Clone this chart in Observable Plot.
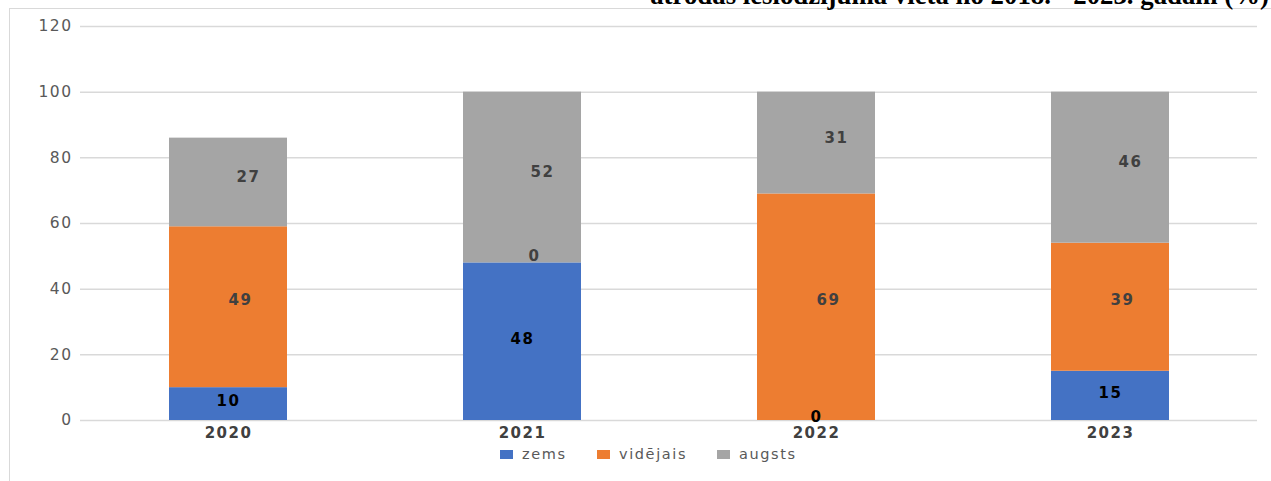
<!DOCTYPE html>
<html>
<head>
<meta charset="utf-8">
<script src="https://cdn.jsdelivr.net/npm/d3@7"></script>
<script src="https://cdn.jsdelivr.net/npm/@observablehq/plot@0.6"></script>
<style>
  html, body { margin: 0; padding: 0; background: #fff; }
  #wrap { position: relative; width: 1271px; height: 481px; overflow: hidden; }
  #frame { position: absolute; left: 9px; top: 8px; width: 1400px; height: 600px; border: 1px solid #d9d9d9; box-sizing: border-box; }
  #title { position: absolute; right: 2px; top: -20px; font-family: "Liberation Serif", "Times New Roman", serif; font-weight: bold; font-size: 26.8px; line-height: 30px; color: #000; white-space: nowrap; }
  #chart { position: absolute; left: 0; top: 0; }
  #chart svg text { letter-spacing: 1.5px; }
  #legend { position: absolute; top: 446px; left: 0; width: 1271px; font-family: "DejaVu Sans", sans-serif; font-size: 14.5px; letter-spacing: 1.6px; color: #595959; }
  .item { position: absolute; display: flex; align-items: center; }
  .sw { width: 13px; height: 9px; margin-right: 9px; }
</style>
</head>
<body>
<div id="wrap">
  <div id="frame"></div>
  <div id="title">atrodas ieslodzījuma vietā no 2018. - 2023. gadam (%)</div>
  <div id="chart"></div>
  <div id="legend"></div>
</div>
<script>
const years = ["2020", "2021", "2022", "2023"];
const seriesNames = ["zems", "vidējais", "augsts"];
const zems = [10, 48, 0, 15];
const videjais = [49, 0, 69, 39];
const augsts = [27, 52, 31, 46];
const colors = ["#4472c4", "#ed7d31", "#a5a5a5"];
const labelColors = ["#000000", "#404040", "#404040"];
const yTicks = [0, 20, 40, 60, 80, 100, 120];

const seriesValues = [zems, videjais, augsts];
const data = [];
years.forEach((yr, i) => {
  seriesNames.forEach((s, j) => {
    data.push({year: yr, series: s, value: seriesValues[j][i]});
  });
});

const labelDx = [0, 12, 20];
const labelDy = [-3, -7, -5];

const marks = [
  Plot.gridY(yTicks, {stroke: "#d9d9d9", strokeOpacity: 1, strokeWidth: 1.5}),
  Plot.axisY(yTicks, {tickSize: 0, tickPadding: 8, fill: "#595959", fontSize: 15.5}),
  Plot.axisX({tickSize: 0, tickPadding: 7, fill: "#404040", fontSize: 15, fontWeight: "bold"}),
  Plot.barY(data, {x: "year", y: "value", z: "series", fill: "series", order: seriesNames})
];
seriesNames.forEach((s, j) => {
  marks.push(Plot.text(data, Plot.stackY({
    x: "year", y: "value", z: "series", order: seriesNames,
    text: d => d.series === s ? String(d.value) : null,
    fill: labelColors[j], fontWeight: "bold", fontSize: 15, dx: labelDx[j], dy: labelDy[j]
  })));
});

const chart = Plot.plot({
  width: 1271,
  height: 446,
  marginLeft: 80,
  marginRight: 14,
  marginTop: 26,
  marginBottom: 26,
  style: {fontFamily: "DejaVu Sans, sans-serif", fontSize: "15px", background: "transparent", overflow: "visible"},
  x: {domain: years, paddingInner: 0.6, paddingOuter: 0.3, label: null},
  y: {domain: [0, 120], label: null},
  color: {domain: seriesNames, range: colors},
  marks
});
document.getElementById("chart").appendChild(chart);

const legend = document.getElementById("legend");
const legendX = [500, 597, 717];
seriesNames.forEach((s, j) => {
  const item = document.createElement("div");
  item.className = "item";
  item.style.left = legendX[j] + "px";
  const sw = document.createElement("div");
  sw.className = "sw";
  sw.style.background = colors[j];
  const t = document.createElement("span");
  t.textContent = s;
  item.appendChild(sw);
  item.appendChild(t);
  legend.appendChild(item);
});
</script>
</body>
</html>
